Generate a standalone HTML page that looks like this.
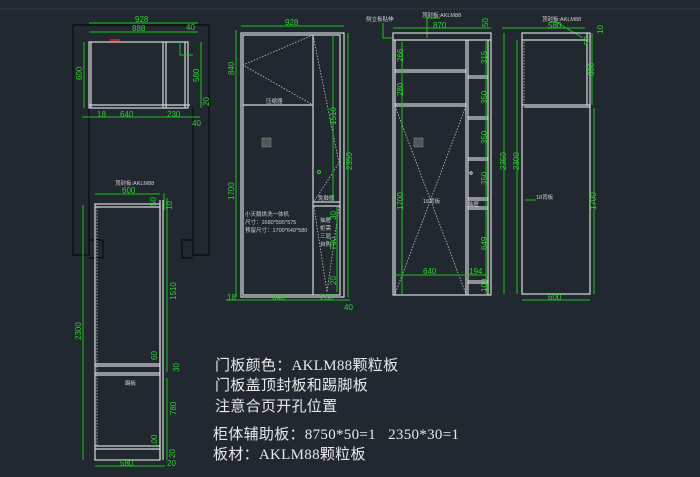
<!DOCTYPE html>
<html><head><meta charset="utf-8"><style>
html,body{margin:0;padding:0;background:#212830;}
svg{display:block}
.w{stroke:#d8d8d8;fill:none;stroke-width:1.2}
.g{stroke:#19c419;fill:none;stroke-width:1}
.k{stroke:#0a0c0f;fill:none;stroke-width:1.2}
.d{stroke:#c8c8c8;fill:none;stroke-width:0.8;stroke-dasharray:1.5 1.5}
.gt{fill:#2fd02f;font-family:"Liberation Sans",sans-serif;font-size:8px}
.st{fill:#d0d0d0;font-family:"Liberation Sans","Noto Sans CJK SC",sans-serif;font-size:5.5px}
.big{fill:#e8e8e8;font-family:"Liberation Serif","Noto Sans CJK SC",serif;font-size:15px;white-space:pre;letter-spacing:0.3px}
</style></head><body>
<svg width="700" height="477" viewBox="0 0 700 477">
<rect width="700" height="477" fill="#212830"/>
<line x1="0" y1="9" x2="700" y2="9" stroke="#313842" stroke-width="1"/>

<!-- top-left plan outline -->
<path class="k" d="M73,25 H209 V255 H193 V240 H182 V258 H193 M209,255 M73,25 V255 H89 V240 H103 V258 H89"/>
<path class="k" d="M89,108 V240 M193,108 V240"/>
<rect class="w" x="89" y="42" width="99" height="66"/>
<line class="w" x1="91" y1="42" x2="91" y2="108"/>
<line class="w" x1="163" y1="42" x2="163" y2="108"/>
<line class="w" x1="166" y1="42" x2="166" y2="108"/>
<line class="w" x1="185" y1="42" x2="185" y2="108"/>
<line class="w" x1="89" y1="105" x2="190" y2="105"/>
<rect x="110" y="39" width="10" height="2" fill="#c02020"/>
<path class="g" d="M180,42 V55 H193"/>
<line class="g" x1="89" y1="23" x2="198" y2="23"/><text class="gt" x="135" y="22">928</text><text class="gt" x="186" y="30">40</text>
<line class="g" x1="89" y1="32" x2="198" y2="32"/><text class="gt" x="132" y="31">888</text>
<line class="g" x1="84" y1="42" x2="84" y2="108"/><text class="gt" x="82" y="80" transform="rotate(-90 82 80)">600</text>
<line class="g" x1="201" y1="42" x2="201" y2="108"/><text class="gt" x="199" y="82" transform="rotate(-90 199 82)">580</text>
<text class="gt" x="209" y="106" transform="rotate(-90 209 106)">20</text>
<line class="g" x1="82" y1="117" x2="200" y2="117"/>
<text class="gt" x="97" y="117">18</text><text class="gt" x="120" y="117">640</text><text class="gt" x="167" y="117">230</text><text class="gt" x="192" y="126">40</text>

<!-- bottom-left side section -->
<rect class="w" x="95" y="204" width="65" height="256"/>
<line class="w" x1="95" y1="207" x2="160" y2="207"/>
<line class="d" x1="97" y1="207" x2="97" y2="445"/>
<line class="w" x1="160" y1="200" x2="160" y2="460"/>
<line class="w" x1="163" y1="200" x2="163" y2="460"/>
<line class="w" x1="95" y1="364" x2="160" y2="364"/><line class="w" x1="95" y1="366" x2="160" y2="366"/>
<line class="w" x1="95" y1="373" x2="160" y2="373"/><line class="w" x1="95" y1="375" x2="160" y2="375"/>
<line class="w" x1="95" y1="446" x2="160" y2="446"/><line class="w" x1="95" y1="449" x2="160" y2="449"/>
<text class="st" x="115" y="185">顶封板:AKLM88</text>
<line class="g" x1="95" y1="194" x2="160" y2="194"/><text class="gt" x="122" y="193">600</text>
<line class="g" x1="83" y1="205" x2="83" y2="460"/><text class="gt" x="81" y="340" transform="rotate(-90 81 340)">2300</text>
<line class="g" x1="164" y1="193" x2="164" y2="210"/><text class="gt" x="156" y="206" transform="rotate(-90 156 206)">50</text>
<line class="g" x1="167" y1="198" x2="167" y2="372"/><text class="gt" x="176" y="300" transform="rotate(-90 176 300)">1510</text>
<text class="gt" x="172" y="210" transform="rotate(-90 172 210)">10</text>
<text class="gt" x="157" y="360" transform="rotate(-90 157 360)">60</text>
<text class="gt" x="179" y="372" transform="rotate(-90 179 372)">30</text>
<text class="st" x="125" y="385">踢板</text>
<line class="g" x1="167" y1="378" x2="167" y2="460"/><text class="gt" x="176" y="415" transform="rotate(-90 176 415)">780</text>
<text class="gt" x="157" y="448" transform="rotate(-90 157 448)">100</text>
<line class="g" x1="95" y1="466" x2="165" y2="466"/><text class="gt" x="120" y="466">580</text><text class="gt" x="167" y="466">20</text><text class="gt" x="175" y="458" transform="rotate(-90 175 458)">20</text>

<!-- middle front elevation -->
<rect class="w" x="241" y="33" width="103" height="264"/>
<rect class="w" x="243" y="35" width="97" height="260"/>
<line class="w" x1="313" y1="35" x2="313" y2="295"/>
<line class="w" x1="243" y1="105" x2="313" y2="105"/>
<line class="w" x1="313" y1="202" x2="340" y2="202"/><line class="w" x1="313" y1="206" x2="340" y2="206"/>
<path class="d" d="M313,35 L243,65 L313,105 M313,35 L339,163 L313,203 M314,207 L327,292 L339,207"/>
<text class="st" x="266" y="103">压缩器</text>
<rect x="262" y="138" width="9" height="9" fill="#555" stroke="#888" stroke-width="0.6"/>
<text class="st" x="318" y="200">免鼓器</text>
<text class="st" x="245" y="216">小天鹅烘洗一体机</text>
<text class="st" x="245" y="224">尺寸：1680*595*575</text>
<text class="st" x="245" y="232">预留尺寸：1700*640*580</text>
<text class="st" x="320" y="222">抽屉</text><text class="st" x="320" y="230">柜需</text><text class="st" x="320" y="238">三层</text><text class="st" x="320" y="246">自购</text>
<line class="g" x1="241" y1="26" x2="344" y2="26"/><text class="gt" x="285" y="25">928</text>
<line class="g" x1="348" y1="33" x2="348" y2="297"/><text class="gt" x="352" y="170" transform="rotate(-90 352 170)">2350</text>
<line class="g" x1="333" y1="35" x2="333" y2="202"/><text class="gt" x="336" y="125" transform="rotate(-90 336 125)">1510</text>
<line class="g" x1="236" y1="30" x2="236" y2="297"/><text class="gt" x="234" y="75" transform="rotate(-90 234 75)">840</text><text class="gt" x="234" y="200" transform="rotate(-90 234 200)">1700</text>
<line class="g" x1="337" y1="207" x2="337" y2="292"/><text class="gt" x="336" y="220" transform="rotate(-90 336 220)">30</text><text class="gt" x="336" y="250" transform="rotate(-90 336 250)">780</text><text class="gt" x="336" y="285" transform="rotate(-90 336 285)">20</text>
<line class="g" x1="226" y1="300" x2="350" y2="300"/><text class="gt" x="227" y="300">18</text><text class="gt" x="272" y="300">640</text><text class="gt" x="320" y="300">230</text><text class="gt" x="344" y="310">40</text>
<circle cx="319" cy="172" r="1.5" fill="none" stroke="#2fd02f"/>

<!-- right front elevation -->
<text class="st" x="366" y="21">侧立板贴伸</text>
<path class="g" d="M383,23 V38 H393"/>
<text class="st" x="422" y="17">顶封板:AKLM88</text>
<path class="g" d="M426,18 H440 M427,18 V38"/>
<line class="g" x1="393" y1="28" x2="491" y2="28"/><text class="gt" x="433" y="28">870</text><text class="gt" x="488" y="27" transform="rotate(-90 488 27)">50</text>
<rect class="w" x="393" y="33" width="98" height="262"/>
<line class="w" x1="393" y1="40" x2="491" y2="40"/>
<line class="w" x1="395" y1="40" x2="395" y2="295"/><line class="w" x1="488" y1="40" x2="488" y2="295"/>
<line class="w" x1="466" y1="40" x2="466" y2="295"/><line class="w" x1="468" y1="40" x2="468" y2="295"/>
<rect class="w" x="395" y="70" width="71" height="2"/><rect class="w" x="395" y="104" width="71" height="2"/>
<rect class="w" x="468" y="76" width="20" height="2"/><rect class="w" x="468" y="117" width="20" height="2"/>
<rect class="w" x="468" y="158" width="20" height="2"/><rect class="w" x="468" y="198" width="20" height="2"/>
<rect class="w" x="468" y="207" width="20" height="2"/><rect class="w" x="468" y="281" width="20" height="2"/>
<path class="d" d="M395,106 L466,294 M466,106 L395,294"/>
<rect x="414" y="138" width="9" height="9" fill="#555" stroke="#888" stroke-width="0.6"/>
<text class="st" x="423" y="203">18背板</text>
<text class="st" x="468" y="206">抽屉</text>
<line class="g" x1="402" y1="42" x2="402" y2="294"/><text class="gt" x="403" y="62" transform="rotate(-90 403 62)">266</text><text class="gt" x="403" y="96" transform="rotate(-90 403 96)">280</text><text class="gt" x="403" y="210" transform="rotate(-90 403 210)">1700</text>
<line class="g" x1="486" y1="40" x2="486" y2="294"/>
<text class="gt" x="487" y="64" transform="rotate(-90 487 64)">315</text><text class="gt" x="487" y="104" transform="rotate(-90 487 104)">350</text>
<text class="gt" x="487" y="144" transform="rotate(-90 487 144)">350</text><text class="gt" x="487" y="185" transform="rotate(-90 487 185)">350</text>
<text class="gt" x="487" y="250" transform="rotate(-90 487 250)">649</text><text class="gt" x="487" y="292" transform="rotate(-90 487 292)">100</text>
<line class="g" x1="395" y1="275" x2="488" y2="275"/><text class="gt" x="423" y="274">640</text><text class="gt" x="469" y="274">194</text>
<line class="g" x1="504" y1="33" x2="504" y2="294"/><text class="gt" x="506" y="170" transform="rotate(-90 506 170)">2350</text>
<line class="g" x1="517" y1="40" x2="517" y2="294"/><text class="gt" x="519" y="170" transform="rotate(-90 519 170)">2300</text>
<circle cx="471" cy="173" r="1.2" fill="none" stroke="#d8d8d8"/>

<!-- side view -->
<text class="st" x="542" y="21">顶封板:AKLM88</text>
<path class="g" d="M550,22 H556 L583,38"/>
<line class="g" x1="502" y1="28" x2="585" y2="28"/><text class="gt" x="548" y="28">580</text>
<rect class="w" x="522" y="33" width="68" height="261"/>
<line class="w" x1="522" y1="40" x2="588" y2="40"/>
<line class="w" x1="522" y1="105" x2="590" y2="105"/><line class="w" x1="524" y1="107" x2="590" y2="107"/>
<line class="w" x1="587" y1="33" x2="587" y2="105"/>
<line class="d" x1="524" y1="42" x2="524" y2="103"/>
<text class="st" x="536" y="199">18背板</text><path class="g" d="M525,200 H536"/>
<line class="g" x1="592" y1="33" x2="592" y2="105"/><text class="gt" x="594" y="76" transform="rotate(-90 594 76)">600</text>
<line class="g" x1="594" y1="108" x2="594" y2="294"/><text class="gt" x="596" y="210" transform="rotate(-90 596 210)">1700</text>
<text class="gt" x="603" y="34" transform="rotate(-90 603 34)">10</text><text class="gt" x="590" y="45" transform="rotate(-90 590 45)">50</text>
<line class="g" x1="522" y1="300" x2="590" y2="300"/><text class="gt" x="548" y="300">600</text>

<!-- notes -->
<text class="big" x="215" y="370">门板颜色：AKLM88颗粒板</text>
<text class="big" x="215" y="390">门板盖顶封板和踢脚板</text>
<text class="big" x="215" y="411">注意合页开孔位置</text>
<text class="big" x="213" y="439">柜体辅助板：8750*50=1&#160;&#160;&#160;2350*30=1</text>
<text class="big" x="213" y="459">板材：AKLM88颗粒板</text>
</svg>
</body></html>
